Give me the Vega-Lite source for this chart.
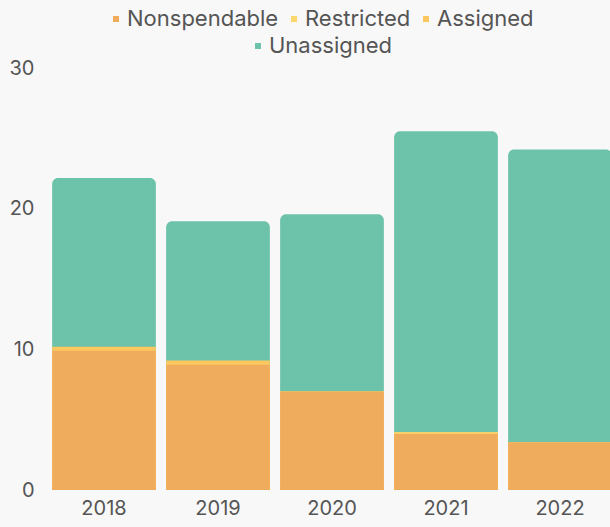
{
  "$schema": "https://vega.github.io/schema/vega-lite/v6.json",
  "width": 570,
  "height": 422,
  "autosize": {"type": "none"},
  "padding": {"left": 47, "top": 68, "right": 0, "bottom": 37},
  "background": "#f8f8f8",
  "config": {
    "view": {"stroke": null},
    "font": "Inter",
    "axis": {"labelFont": "Inter", "labelColor": "#555555", "labelFontSize": 20, "grid": false, "domain": false, "ticks": false},
    "legend": {"labelFont": "Inter", "labelColor": "#555555", "labelFontSize": 22}
  },
  "data": {
    "values": [
      {"year": "2018", "category": "Nonspendable", "value": 9.9},
      {"year": "2018", "category": "Restricted", "value": 0},
      {"year": "2018", "category": "Assigned", "value": 0.28},
      {"year": "2018", "category": "Unassigned", "value": 12.0},
      {"year": "2019", "category": "Nonspendable", "value": 8.9},
      {"year": "2019", "category": "Restricted", "value": 0},
      {"year": "2019", "category": "Assigned", "value": 0.3},
      {"year": "2019", "category": "Unassigned", "value": 9.9},
      {"year": "2020", "category": "Nonspendable", "value": 7.0},
      {"year": "2020", "category": "Restricted", "value": 0},
      {"year": "2020", "category": "Assigned", "value": 0},
      {"year": "2020", "category": "Unassigned", "value": 12.6},
      {"year": "2021", "category": "Nonspendable", "value": 4.0},
      {"year": "2021", "category": "Restricted", "value": 0.1},
      {"year": "2021", "category": "Assigned", "value": 0},
      {"year": "2021", "category": "Unassigned", "value": 21.4},
      {"year": "2022", "category": "Nonspendable", "value": 3.4},
      {"year": "2022", "category": "Restricted", "value": 0},
      {"year": "2022", "category": "Assigned", "value": 0},
      {"year": "2022", "category": "Unassigned", "value": 20.8}
    ]
  },
  "encoding": {
    "x": {
      "field": "year", "type": "nominal",
      "scale": {"paddingInner": 0.09, "paddingOuter": 0.045},
      "axis": {"title": null, "labelAngle": 0, "labelPadding": 8}
    }
  },
  "layer": [
    {
      "mark": {"type": "bar", "strokeWidth": 0, "cornerRadiusEnd": 6},
      "encoding": {
        "y": {
          "field": "value", "type": "quantitative", "aggregate": "sum",
          "scale": {"domain": [0, 30]},
          "axis": {"title": null, "values": [0, 10, 20, 30], "labelPadding": 13}
        },
        "fill": {
          "datum": "Unassigned", "type": "nominal",
          "scale": {"domain": ["Nonspendable", "Restricted", "Assigned", "Unassigned"], "range": ["#efac5d", "#fcd86c", "#fbc75e", "#6dc3aa"]},
          "legend": {"title": null, "orient": "none", "legendX": 58, "legendY": -60, "direction": "horizontal", "columns": 3, "values": ["Nonspendable", "Restricted", "Assigned"], "symbolType": "square", "symbolSize": 36, "symbolStrokeWidth": 0, "labelOffset": 0, "columnPadding": 4}
        },
        "stroke": {
          "datum": "Unassigned", "type": "nominal",
          "scale": {"domain": ["Unassigned"], "range": ["#6dc3aa"]},
          "legend": {"title": null, "orient": "none", "legendX": 200, "legendY": -33, "symbolType": "square", "symbolSize": 36, "symbolFillColor": "#6dc3aa", "symbolStrokeWidth": 0, "labelOffset": 0}
        }
      }
    },
    {
      "transform": [{"filter": "datum.category !== 'Unassigned'"}],
      "mark": {"type": "bar", "strokeWidth": 0},
      "encoding": {
        "y": {"field": "value", "type": "quantitative", "aggregate": "sum"},
        "fill": {"datum": "Assigned", "type": "nominal"}
      }
    },
    {
      "transform": [{"filter": "datum.category === 'Nonspendable' || datum.category === 'Restricted'"}],
      "mark": {"type": "bar", "strokeWidth": 0},
      "encoding": {
        "y": {"field": "value", "type": "quantitative", "aggregate": "sum"},
        "fill": {"datum": "Restricted", "type": "nominal"}
      }
    },
    {
      "transform": [{"filter": "datum.category === 'Nonspendable'"}],
      "mark": {"type": "bar", "strokeWidth": 0},
      "encoding": {
        "y": {"field": "value", "type": "quantitative", "aggregate": "sum"},
        "fill": {"datum": "Nonspendable", "type": "nominal"}
      }
    }
  ]
}
